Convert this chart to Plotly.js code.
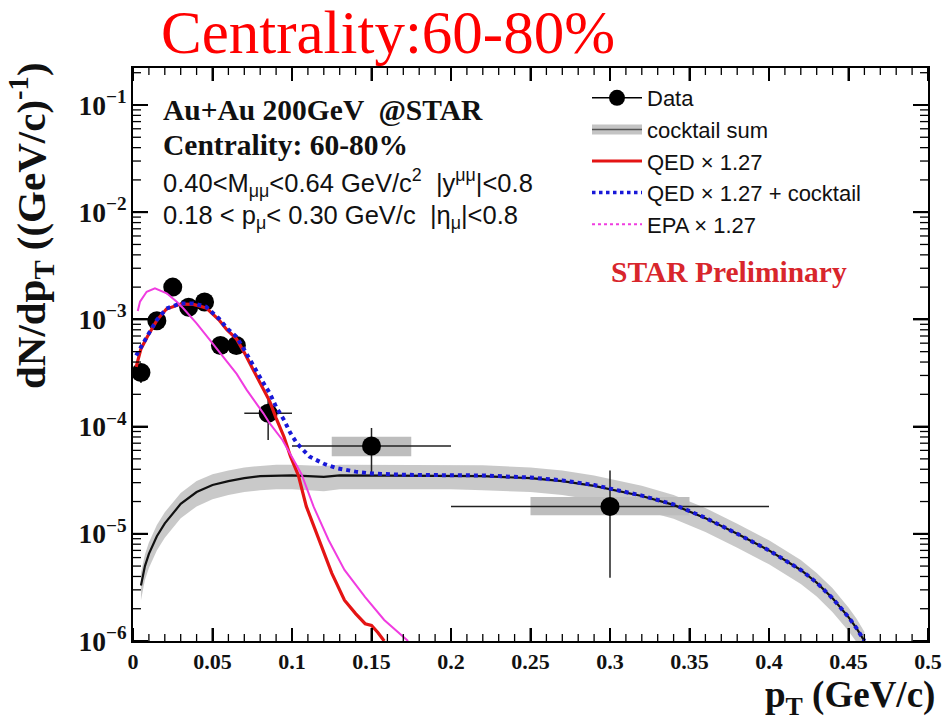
<!DOCTYPE html>
<html>
<head>
<meta charset="utf-8">
<script src="https://cdn.plot.ly/plotly-3.0.1.min.js"></script>
<style>
  html, body { margin: 0; padding: 0; background: #fff; }
  #chart { width: 943px; height: 720px; }
</style>
</head>
<body>
<div id="chart"></div>
<script>
// Dimuon pT spectrum, Au+Au 200 GeV, 60-80% centrality

// Measured points
const dataPt      = [0.005, 0.015, 0.025, 0.035, 0.045, 0.055, 0.065, 0.085, 0.15, 0.30];
const dataYield   = [3.2e-4, 9.7e-4, 2.0e-3, 1.3e-3, 1.45e-3, 5.7e-4, 5.7e-4, 1.33e-4, 6.6e-5, 1.8e-5];
const dataPtErr   = [0.005, 0.005, 0.005, 0.005, 0.005, 0.005, 0.005, 0.015, 0.05, 0.10];
const dataErrUp   = [6.5e-5, 1.0e-4, 2.0e-4, 1.4e-4, 1.5e-4, 7e-5, 7e-5, 5.7e-5, 3.1e-5, 2.1e-5];
const dataErrDown = [6.5e-5, 1.0e-4, 2.0e-4, 1.4e-4, 1.5e-4, 7e-5, 7e-5, 5.8e-5, 3.1e-5, 1.41e-5];

// Systematic uncertainty boxes
const sysPt    = [0.15, 0.30];
const sysHalfW = [0.025, 0.05];
const sysLow   = [5.3e-5, 1.49e-5];
const sysHigh  = [8.05e-5, 2.2e-5];

// Hadronic cocktail sum with its uncertainty band
const cockPt  = [0.005, 0.0075, 0.01, 0.015, 0.02, 0.025, 0.03, 0.04, 0.05, 0.06, 0.07, 0.08, 0.09, 0.10, 0.11, 0.12, 0.13, 0.15, 0.17, 0.20, 0.22, 0.25, 0.27, 0.29, 0.30, 0.32, 0.34, 0.36, 0.38, 0.40, 0.42, 0.43, 0.44, 0.45, 0.455, 0.46];
const cockY   = [3.3e-6, 5.0e-6, 6.5e-6, 9.5e-6, 1.25e-5, 1.55e-5, 1.9e-5, 2.45e-5, 2.85e-5, 3.1e-5, 3.3e-5, 3.45e-5, 3.5e-5, 3.5e-5, 3.45e-5, 3.4e-5, 3.5e-5, 3.5e-5, 3.5e-5, 3.5e-5, 3.45e-5, 3.3e-5, 3.1e-5, 2.8e-5, 2.6e-5, 2.25e-5, 1.86e-5, 1.4e-5, 1.0e-5, 7.0e-6, 4.6e-6, 3.5e-6, 2.5e-6, 1.67e-6, 1.32e-6, 1.0e-6];
const cockHi  = [4.3e-6, 6.4e-6, 8.3e-6, 1.21e-5, 1.59e-5, 1.97e-5, 2.4e-5, 3.1e-5, 3.6e-5, 3.9e-5, 4.15e-5, 4.3e-5, 4.4e-5, 4.4e-5, 4.35e-5, 4.3e-5, 4.4e-5, 4.4e-5, 4.4e-5, 4.4e-5, 4.35e-5, 4.15e-5, 3.9e-5, 3.5e-5, 3.25e-5, 2.8e-5, 2.3e-5, 1.74e-5, 1.24e-5, 8.7e-6, 5.7e-6, 4.3e-6, 3.1e-6, 2.05e-6, 1.62e-6, 1.22e-6];
const cockLo  = [2.4e-6, 3.7e-6, 4.8e-6, 7.0e-6, 9.2e-6, 1.15e-5, 1.4e-5, 1.8e-5, 2.1e-5, 2.3e-5, 2.45e-5, 2.55e-5, 2.6e-5, 2.6e-5, 2.55e-5, 2.5e-5, 2.6e-5, 2.6e-5, 2.6e-5, 2.6e-5, 2.55e-5, 2.45e-5, 2.3e-5, 2.07e-5, 1.93e-5, 1.67e-5, 1.38e-5, 1.04e-5, 7.4e-6, 5.2e-6, 3.4e-6, 2.6e-6, 1.85e-6, 1.24e-6, 9.8e-7, 7.4e-7];

// QED x 1.27
const qedPt = [0.002, 0.005, 0.009, 0.015, 0.021, 0.03, 0.038, 0.046, 0.054, 0.059, 0.065, 0.070, 0.076, 0.081, 0.086, 0.090, 0.095, 0.099, 0.104, 0.109, 0.117, 0.125, 0.133, 0.140, 0.146, 0.150, 0.154, 0.158];
const qedY  = [3.6e-4, 5.3e-4, 6.9e-4, 9.8e-4, 1.25e-3, 1.39e-3, 1.38e-3, 1.28e-3, 9.9e-4, 8.0e-4, 6.6e-4, 4.9e-4, 3.3e-4, 2.4e-4, 1.72e-4, 1.2e-4, 8.0e-5, 5.3e-5, 3.5e-5, 1.8e-5, 8.8e-6, 4.3e-6, 2.4e-6, 1.8e-6, 1.45e-6, 1.4e-6, 1.2e-6, 1.0e-6];

// QED x 1.27 + cocktail
const sumPt = [0.002, 0.005, 0.009, 0.015, 0.021, 0.03, 0.038, 0.046, 0.054, 0.059, 0.065, 0.070, 0.076, 0.081, 0.086, 0.090, 0.095, 0.099, 0.103, 0.111, 0.120, 0.128, 0.14, 0.15, 0.17, 0.20, 0.22, 0.25, 0.27, 0.29, 0.30, 0.32, 0.34, 0.36, 0.38, 0.40, 0.42, 0.43, 0.44, 0.45, 0.455, 0.46];
const sumY  = [4.6e-4, 5.6e-4, 7.0e-4, 9.9e-4, 1.26e-3, 1.41e-3, 1.41e-3, 1.31e-3, 1.02e-3, 8.3e-4, 6.9e-4, 5.2e-4, 3.6e-4, 2.7e-4, 2.05e-4, 1.53e-4, 1.15e-4, 8.7e-5, 7.0e-5, 5.25e-5, 4.5e-5, 4.1e-5, 3.8e-5, 3.65e-5, 3.55e-5, 3.55e-5, 3.5e-5, 3.35e-5, 3.15e-5, 2.85e-5, 2.65e-5, 2.27e-5, 1.88e-5, 1.41e-5, 1.0e-5, 7.0e-6, 4.6e-6, 3.5e-6, 2.5e-6, 1.67e-6, 1.32e-6, 1.0e-6];

// EPA x 1.27
const epaPt = [0.003, 0.0044, 0.0086, 0.0138, 0.0212, 0.0275, 0.0316, 0.040, 0.0484, 0.0568, 0.0652, 0.0715, 0.0778, 0.082, 0.086, 0.094, 0.106, 0.1136, 0.123, 0.133, 0.146, 0.158, 0.173];
const epaY  = [1.2e-3, 1.46e-3, 1.81e-3, 1.95e-3, 1.75e-3, 1.46e-3, 1.27e-3, 9.2e-4, 6.4e-4, 4.5e-4, 3.1e-4, 2.2e-4, 1.65e-4, 1.33e-4, 1.07e-4, 7.5e-5, 3.6e-5, 1.79e-5, 8.75e-6, 4.6e-6, 2.57e-6, 1.57e-6, 1.0e-6];

const legendNames = ['Data', 'cocktail sum', 'QED \u00d7 1.27', 'QED \u00d7 1.27 + cocktail', 'EPA \u00d7 1.27'];

const C = {
  band: 'rgba(192,192,192,0.85)',
  sys: '#bdbdbd',
  red: '#e41414',
  blue: '#1818d8',
  magenta: '#f03ce0',
  black: '#111111'
};

const X_RANGE = [0, 0.5];
const Y_LOG_RANGE = [-6, -0.655];
const PLOT_W = 795, PLOT_H = 573;
const PX_PER_X = PLOT_W / (X_RANGE[1] - X_RANGE[0]);
const PX_PER_DECADE = PLOT_H / (Y_LOG_RANGE[1] - Y_LOG_RANGE[0]);

// closed rectangles for systematic boxes, one polygon per point
const sysX = [], sysY = [];
sysPt.forEach((p, i) => {
  sysX.push(p - sysHalfW[i], p + sysHalfW[i], p + sysHalfW[i], p - sysHalfW[i], p - sysHalfW[i], null);
  sysY.push(sysLow[i], sysLow[i], sysHigh[i], sysHigh[i], sysLow[i], null);
});

// frame tick marks on all four sides, pointing inwards (ROOT style frame)
function frameTicks(major) {
  const xs = [], ys = [];
  const yBot = Math.pow(10, Y_LOG_RANGE[0]);
  const yTop = Math.pow(10, Y_LOG_RANGE[1]);
  // pT axis: major every 0.05, minor every 0.01
  for (let k = 0; k <= 50; k++) {
    if ((k % 5 === 0) !== major) continue;
    const v = k / 100;
    const dec = (major ? 13 : 7) / PX_PER_DECADE;
    xs.push(v, v, null, v, v, null);
    ys.push(yBot, yBot * Math.pow(10, dec), null, yTop, yTop / Math.pow(10, dec), null);
  }
  // yield axis: decades and 2..9 within each decade
  for (let e = -6; e <= -1; e++) {
    for (let m = 1; m <= 9; m++) {
      if ((m === 1) !== major) continue;
      const val = m * Math.pow(10, e);
      if (Math.log10(val) > Y_LOG_RANGE[1]) continue;
      const dx = (major ? 15 : 8) / PX_PER_X;
      xs.push(X_RANGE[0], X_RANGE[0] + dx, null, X_RANGE[1], X_RANGE[1] - dx, null);
      ys.push(val, val, null, val, val, null);
    }
  }
  return { xs, ys };
}
const majorTicks = frameTicks(true);
const minorTicks = frameTicks(false);

const traces = [
  { x: cockPt, y: cockLo, mode: 'lines', line: { width: 0, color: C.band }, showlegend: false, hoverinfo: 'skip' },
  { x: cockPt, y: cockHi, mode: 'lines', line: { width: 0, color: C.band }, fill: 'tonexty', fillcolor: C.band, showlegend: false, hoverinfo: 'skip' },
  { x: sysX, y: sysY, mode: 'lines', line: { width: 0, color: C.sys }, fill: 'toself', fillcolor: C.sys, showlegend: false, hoverinfo: 'skip' },
  {
    x: dataPt, y: dataYield, mode: 'markers', showlegend: false,
    marker: { color: '#000', size: 19 },
    error_x: { type: 'data', array: dataPtErr, color: '#222', thickness: 1.5, width: 0 },
    error_y: { type: 'data', array: dataErrUp, arrayminus: dataErrDown, symmetric: false, color: '#222', thickness: 1.5, width: 0 }
  },
  { x: cockPt, y: cockY, mode: 'lines', line: { color: C.black, width: 2.2 }, showlegend: false },
  { x: qedPt, y: qedY, mode: 'lines', line: { color: C.red, width: 3.2 }, showlegend: false },
  { x: epaPt, y: epaY, mode: 'lines', line: { color: C.magenta, width: 2 }, showlegend: false },
  { x: sumPt, y: sumY, mode: 'lines', line: { color: C.blue, width: 4, dash: 'dot' }, showlegend: false },

  // frame ticks
  { x: majorTicks.xs, y: majorTicks.ys, mode: 'lines', connectgaps: false, line: { color: '#000', width: 2 }, showlegend: false, hoverinfo: 'skip' },
  { x: minorTicks.xs, y: minorTicks.ys, mode: 'lines', connectgaps: false, line: { color: '#000', width: 1.3 }, showlegend: false, hoverinfo: 'skip' },

  // legend entries
  { x: [null], y: [null], name: legendNames[0], mode: 'lines+markers', marker: { color: '#000', size: 18 }, line: { color: '#000', width: 1.5 }, legend: 'legend' },
  { x: [null], y: [null], name: legendNames[1], mode: 'lines', line: { color: '#c4c4c4', width: 10 }, legend: 'legend' },
  { x: [null], y: [null], name: legendNames[2], mode: 'lines', line: { color: C.red, width: 3 }, legend: 'legend' },
  { x: [null], y: [null], name: legendNames[3], mode: 'lines', line: { color: C.blue, width: 3.5, dash: 'dot' }, legend: 'legend' },
  { x: [null], y: [null], name: legendNames[4], mode: 'lines', line: { color: C.magenta, width: 2, dash: 'dot' }, legend: 'legend' },
  // centre line drawn over the cocktail band swatch
  { x: [null], y: [null], name: ' ', mode: 'lines', line: { color: 'rgba(0,0,0,0)', width: 1 }, legend: 'legend2' },
  { x: [null], y: [null], name: ' ', mode: 'lines', line: { color: '#555', width: 1.5 }, legend: 'legend2' }
];

const serif = 'Liberation Serif, Times New Roman, serif';
const sans = 'Liberation Sans, Arial, Helvetica, sans-serif';

const px = v => (v - 133) / PLOT_W;   // horizontal pixel -> paper
const py = v => (641 - v) / PLOT_H;   // vertical pixel -> paper

const legendCommon = {
  x: px(587), y: py(77), xanchor: 'left', yanchor: 'top',
  bgcolor: 'rgba(0,0,0,0)', borderwidth: 0,
  font: { family: sans, size: 22, color: '#111' },
  itemwidth: 50, tracegroupgap: 0, traceorder: 'normal'
};

const tickFont = { family: serif, size: 22, weight: 'bold', color: '#111' };

const layout = {
  width: 943, height: 720,
  margin: { l: 133, r: 15, t: 68, b: 79 },
  showlegend: true,
  title: {
    text: 'Centrality:60-80%',
    font: { family: serif, size: 61, color: '#ff0000' },
    x: 388 / 943, xanchor: 'center', xref: 'container',
    y: 1 - 32 / 720, yanchor: 'middle', yref: 'container'
  },
  xaxis: {
    range: X_RANGE, dtick: 0.05,
    ticks: 'inside', ticklen: 13, tickwidth: 2, tickcolor: '#000',
    mirror: 'allticks', showline: true, linewidth: 2, linecolor: '#000',
    showgrid: false, zeroline: false, tickfont: tickFont
  },
  yaxis: {
    type: 'log', range: Y_LOG_RANGE, dtick: 1,
    exponentformat: 'power', showexponent: 'all',
    ticks: 'inside', ticklen: 15, tickwidth: 2, tickcolor: '#000',
    mirror: 'allticks', showline: true, linewidth: 2, linecolor: '#000',
    showgrid: false, zeroline: false, tickfont: tickFont
  },
  legend: legendCommon,
  legend2: Object.assign({}, legendCommon),
  annotations: [
    { text: 'dN/dp<sub>T</sub> ((GeV/c)<sup>-1</sup>)', xref: 'paper', yref: 'paper', x: px(31), y: py(226),
      xanchor: 'center', yanchor: 'middle', textangle: -90, showarrow: false,
      font: { family: serif, size: 41, weight: 'bold', color: '#111' } },
    { text: 'p<sub>T</sub> (GeV/c)', xref: 'paper', yref: 'paper', x: px(937), y: py(697),
      xanchor: 'right', yanchor: 'middle', showarrow: false,
      font: { family: serif, size: 37, weight: 'bold', color: '#111' } },
    { text: 'Au+Au 200GeV  @STAR', xref: 'paper', yref: 'paper', x: px(161), y: py(110),
      xanchor: 'left', yanchor: 'middle', showarrow: false,
      font: { family: serif, size: 29.5, weight: 'bold', color: '#111' } },
    { text: 'Centrality: 60-80%', xref: 'paper', yref: 'paper', x: px(161), y: py(145),
      xanchor: 'left', yanchor: 'middle', showarrow: false,
      font: { family: serif, size: 29.5, weight: 'bold', color: '#111' } },
    { text: '0.40&lt;M<sub>\u03bc\u03bc</sub>&lt;0.64 GeV/c<sup>2</sup>  |y<sup>\u03bc\u03bc</sup>|&lt;0.8', xref: 'paper', yref: 'paper', x: px(161), y: py(183),
      xanchor: 'left', yanchor: 'middle', showarrow: false,
      font: { family: sans, size: 25.5, color: '#111' } },
    { text: '0.18 &lt; p<sub>\u03bc</sub>&lt; 0.30 GeV/c  |\u03b7<sub>\u03bc</sub>|&lt;0.8', xref: 'paper', yref: 'paper', x: px(161), y: py(217),
      xanchor: 'left', yanchor: 'middle', showarrow: false,
      font: { family: sans, size: 25.5, color: '#111' } },
    { text: 'STAR Preliminary', xref: 'paper', yref: 'paper', x: px(609), y: py(272),
      xanchor: 'left', yanchor: 'middle', showarrow: false,
      font: { family: serif, size: 29.5, weight: 'bold', color: '#d8262c' } }
  ]
};

Plotly.newPlot('chart', traces, layout, { displayModeBar: false, staticPlot: true });
</script>
</body>
</html>
